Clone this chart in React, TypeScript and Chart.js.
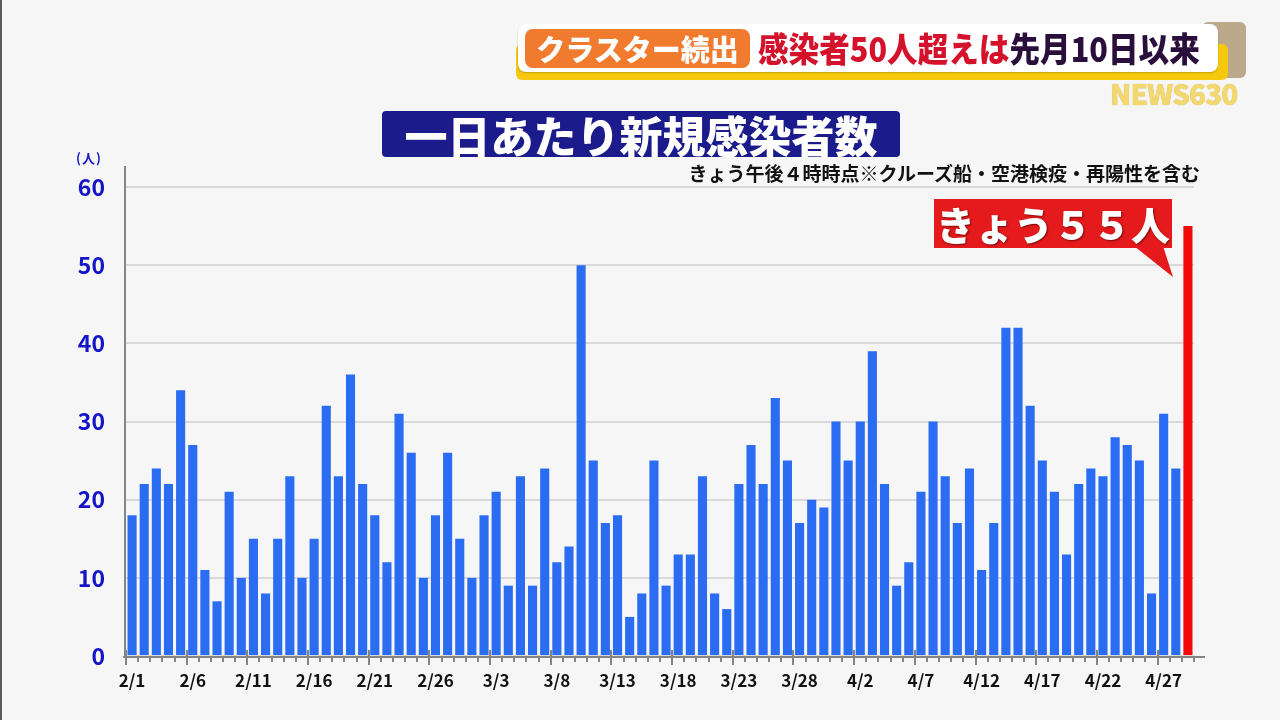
import React, { useEffect, useRef } from "react";
import { Chart, registerables } from "chart.js";

Chart.register(...registerables);

const dates: string[] = [
  "2/1","2/2","2/3","2/4","2/5","2/6","2/7","2/8","2/9","2/10",
  "2/11","2/12","2/13","2/14","2/15","2/16","2/17","2/18","2/19","2/20",
  "2/21","2/22","2/23","2/24","2/25","2/26","2/27","2/28",
  "3/1","3/2","3/3","3/4","3/5","3/6","3/7","3/8","3/9","3/10",
  "3/11","3/12","3/13","3/14","3/15","3/16","3/17","3/18","3/19","3/20",
  "3/21","3/22","3/23","3/24","3/25","3/26","3/27","3/28","3/29","3/30","3/31",
  "4/1","4/2","4/3","4/4","4/5","4/6","4/7","4/8","4/9","4/10",
  "4/11","4/12","4/13","4/14","4/15","4/16","4/17","4/18","4/19","4/20",
  "4/21","4/22","4/23","4/24","4/25","4/26","4/27","4/28","4/29",
];

const febCases: number[] = [18,22,24,22,34,27,11,7,21,10,15,8,15,23,10,15,32,23,36,22,18,12,31,26,10,18,26,15];
const marCases: number[] = [10,18,21,9,23,9,24,12,14,50,25,17,18,5,8,25,9,13,13,23,8,6,22,27,22,33,25,17,20,19,30];
const aprCases: number[] = [25,30,39,22,9,12,21,30,23,17,24,11,17,42,42,32,25,21,13,22,24,23,28,27,25,8,31,24];
const todayCases = 55;

const labeledDates: string[] = ["2/1","2/6","2/11","2/16","2/21","2/26","3/3","3/8","3/13","3/18","3/23","3/28","4/2","4/7","4/12","4/17","4/22","4/27"];

const FONT = "'Noto Sans CJK JP', 'Noto Sans', sans-serif";

export default function App() {
  const ref = useRef<HTMLCanvasElement>(null);

  useEffect(() => {
    document.body.style.margin = "0";
    const values = [...febCases, ...marCases, ...aprCases, todayCases];
    const colors = values.map((_, i) => (i === values.length - 1 ? "#f20a0a" : "#2a6cf2"));

    const axisPlugin = {
      id: "axisDecor",
      afterDatasetsDraw(chart: any) {
        const { ctx, chartArea, scales } = chart;
        const xs = scales.x;
        const n = chart.data.labels.length;
        const w = xs.getPixelForValue(1) - xs.getPixelForValue(0);
        const start = xs.getPixelForValue(0) - w / 2;
        const base = chartArea.bottom + 1;
        ctx.save();
        ctx.strokeStyle = "#848484";
        ctx.lineWidth = 2;
        ctx.beginPath();
        ctx.moveTo(chartArea.left - 1, 166);
        ctx.lineTo(chartArea.left - 1, base);
        ctx.stroke();
        ctx.beginPath();
        ctx.moveTo(chartArea.left - 3, base);
        ctx.lineTo(chartArea.right + 11, base);
        ctx.stroke();
        for (let i = 0; i <= n; i++) {
          const px = Math.round(start + i * w);
          const long = i % 5 === 0;
          ctx.beginPath();
          ctx.moveTo(px, long ? base - 7 : base);
          ctx.lineTo(px, long ? base + 8 : base + 5);
          ctx.stroke();
        }
        ctx.restore();
      },
    };

    const chart = new Chart(ref.current as HTMLCanvasElement, {
      type: "bar",
      data: {
        labels: dates,
        datasets: [
          {
            data: values,
            backgroundColor: colors,
            borderWidth: 0,
            barPercentage: 0.75,
            categoryPercentage: 1,
          },
        ],
      },
      options: {
        animation: false,
        responsive: false,
        maintainAspectRatio: false,
        layout: { padding: { left: 0, top: 187, right: 86, bottom: 0 } },
        plugins: { legend: { display: false }, tooltip: { enabled: false } },
        scales: {
          x: {
            offset: true,
            grid: { display: false, drawTicks: false },
            border: { display: false },
            afterFit: (s: any) => {
              s.height = 64;
            },
            ticks: {
              autoSkip: false,
              maxRotation: 0,
              minRotation: 0,
              padding: 14,
              color: "#111111",
              font: { family: FONT, size: 17, weight: "bold" },
              callback: (_v: any, i: number) => (labeledDates.includes(dates[i]) ? dates[i] : ""),
            },
          },
          y: {
            min: 0,
            max: 60,
            grid: { color: "#d9d9d9", lineWidth: 2, drawTicks: false },
            border: { display: false },
            afterFit: (s: any) => {
              s.width = 126;
            },
            ticks: {
              stepSize: 10,
              padding: 21,
              color: "#1515c8",
              font: { family: FONT, size: 23, weight: "bold" },
            },
          },
        },
      },
      plugins: [axisPlugin],
    } as any);

    return () => chart.destroy();
  }, []);

  const abs = (o: React.CSSProperties): React.CSSProperties => ({ position: "absolute", ...o });

  return (
    <div
      style={{
        position: "relative",
        width: 1280,
        height: 720,
        background: "#f6f6f6",
        overflow: "hidden",
        fontFamily: FONT,
        borderLeft: "2px solid #5a5a5a",
        boxSizing: "border-box",
      }}
    >
      <canvas ref={ref} width={1280} height={720} style={abs({ left: -2, top: 0, width: 1280, height: 720 })} />

      {/* top banner */}
      <div style={abs({ left: 1200, top: 22, width: 44, height: 56, background: "#bca98c", borderRadius: 6 })} />
      <div style={abs({ left: 514, top: 44, width: 712, height: 36, background: "#f6c90e", borderRadius: 6 })} />
      <div
        style={abs({
          left: 516,
          top: 24,
          width: 700,
          height: 48,
          background: "#ffffff",
          borderRadius: 8,
          boxShadow: "0 1px 2px rgba(0,0,0,0.2)",
        })}
      />
      <div
        style={abs({
          left: 523,
          top: 29,
          width: 225,
          height: 39,
          background: "#f07a2e",
          borderRadius: 8,
          color: "#ffffff",
          fontSize: 29,
          fontWeight: 900,
          lineHeight: "39px",
          textAlign: "center",
          whiteSpace: "nowrap",
        })}
      >
        クラスター続出
      </div>
      <div
        style={abs({
          left: 756,
          top: 24,
          height: 48,
          lineHeight: "48px",
          fontSize: 34,
          fontWeight: 900,
          letterSpacing: 0,
          whiteSpace: "nowrap",
          transform: "scaleX(0.9)",
          transformOrigin: "left center",
        })}
      >
        <span style={{ color: "#d4122c" }}>感染者50人超えは</span>
        <span style={{ color: "#2a0f3c" }}>先月10日以来</span>
      </div>
      <div
        style={abs({
          left: 1108,
          top: 77,
          fontSize: 28,
          fontWeight: 900,
          color: "#f2d561",
          letterSpacing: -1,
          lineHeight: "32px",
          opacity: 0.9,
          whiteSpace: "nowrap",
          textShadow: "0 0 1px #c9a93a",
        })}
      >
        NEWS630
      </div>

      {/* title */}
      <div
        style={abs({
          left: 380,
          top: 111,
          width: 518,
          height: 46,
          background: "#1b1b8c",
          borderRadius: 4,
          color: "#ffffff",
          fontSize: 43,
          fontWeight: 900,
          lineHeight: "46px",
          textAlign: "center",
          whiteSpace: "nowrap",
        })}
      >
        一日あたり新規感染者数
      </div>
      <div
        style={abs({
          right: 80,
          top: 160,
          fontSize: 19,
          fontWeight: 700,
          color: "#111111",
          lineHeight: "26px",
          whiteSpace: "nowrap",
        })}
      >
        きょう午後４時時点※クルーズ船・空港検疫・再陽性を含む
      </div>

      {/* y unit */}
      <div
        style={abs({
          left: 74,
          top: 149,
          fontSize: 13,
          fontWeight: 700,
          color: "#1515c8",
          lineHeight: "18px",
          letterSpacing: 1,
          whiteSpace: "nowrap",
        })}
      >
        (人)
      </div>

      {/* callout */}
      <svg width={1280} height={720} style={abs({ left: -2, top: 0, pointerEvents: "none" })}>
        <polygon points="1134,246 1163,246 1173,277" fill="#e41a1c" />
      </svg>
      <div
        style={abs({
          left: 932,
          top: 199,
          width: 238,
          height: 49,
          background: "#e41a1c",
          color: "#ffffff",
          fontSize: 39,
          fontWeight: 900,
          lineHeight: "49px",
          textAlign: "center",
          whiteSpace: "nowrap",
          textShadow: "1px 1px 2px rgba(80,0,0,0.7)",
        })}
      >
        きょう５５人
      </div>
    </div>
  );
}
